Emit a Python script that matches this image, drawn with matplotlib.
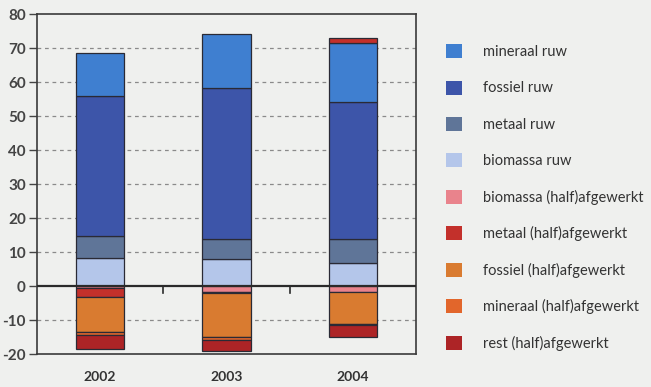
import matplotlib
matplotlib.use("Agg")
import matplotlib.pyplot as plt
import numpy as np
from matplotlib.patches import Patch

plt.rcParams['font.family'] = ['Lato', 'DejaVu Sans']

years = ["2002", "2003", "2004"]

# series (stacked order from zero outward)
biomassa_ruw = [8.3, 7.8, 6.9]
metaal_ruw = [6.4, 6.1, 6.8]
fossiel_ruw = [41.3, 44.2, 40.4]
mineraal_ruw = [12.6, 15.9, 17.5]
biomassa_half = [-0.6, -1.8, -1.8]
metaal_half = [-2.7, -0.2, 1.2]
fossiel_half = [-10.1, -12.9, -9.4]
mineraal_half = [-1.0, -0.9, -0.3]
rest_half = [-4.2, -3.3, -3.5]

series = [
    ("biomassa ruw", biomassa_ruw, "#b4c6ea"),
    ("metaal ruw", metaal_ruw, "#5f7598"),
    ("fossiel ruw", fossiel_ruw, "#3d55a9"),
    ("mineraal ruw", mineraal_ruw, "#3f7fd0"),
    ("biomassa (half)afgewerkt", biomassa_half, "#e9838c"),
    ("metaal (half)afgewerkt", metaal_half, "#c3302b"),
    ("fossiel (half)afgewerkt", fossiel_half, "#d97b30"),
    ("mineraal (half)afgewerkt", mineraal_half, "#e2662b"),
    ("rest (half)afgewerkt", rest_half, "#ad2426"),
]

legend_order = ["mineraal ruw", "fossiel ruw", "metaal ruw", "biomassa ruw",
                "biomassa (half)afgewerkt", "metaal (half)afgewerkt",
                "fossiel (half)afgewerkt", "mineraal (half)afgewerkt",
                "rest (half)afgewerkt"]

bg = "#eff0ee"
fig = plt.figure(figsize=(6.51, 3.87), dpi=100, facecolor=bg)
ax = fig.add_axes([37/651, 1-354/387, 379/651, 340/387], facecolor=bg)

x = np.arange(len(years))
pos = np.zeros(len(years))
neg = np.zeros(len(years))
for name, vals, col in series:
    v = np.array(vals, dtype=float)
    bottom = np.where(v >= 0, pos, neg)
    ax.bar(x, v, 0.385, bottom=bottom, color=col, edgecolor="#2a2a35",
           linewidth=0.9, zorder=3)
    pos = pos + np.where(v >= 0, v, 0)
    neg = neg + np.where(v < 0, v, 0)

ax.set_xlim(-0.5, 2.5)
ax.set_ylim(-20, 80)
ax.set_yticks(range(-20, 81, 10))
ax.set_yticklabels([str(t) for t in range(-20, 81, 10)])
for t in range(-10, 80, 10):
    if t != 0:
        ax.axhline(t, color="#8a8a8a", lw=0.9, ls=(0, (3, 3)), zorder=1)
ax.axhline(0, color="#2a2a2a", lw=1.6, zorder=4)
for xb in [0.5, 1.5]:
    ax.plot([xb, xb], [0, -2.2], color="#2a2a2a", lw=1.2, zorder=4)

ax.set_xticks(x)
ax.set_xticklabels(years)
ax.tick_params(axis='x', length=0, pad=12, labelsize=10, colors="#333333")
ax.tick_params(axis='y', length=6, width=1.0, direction='out', pad=2,
               labelsize=11, colors="#444444")
for lbl in ax.get_yticklabels():
    lbl.set_fontweight("bold")
for lbl in ax.get_xticklabels():
    lbl.set_fontweight("bold")
for s in ax.spines.values():
    s.set_color("#3a3a3a")
    s.set_linewidth(1.2)

cmap = {n: c for n, v, c in series}
handles = [Patch(facecolor=cmap[n], edgecolor="none") for n in legend_order]
fig.legend(handles, legend_order, loc="upper left", bbox_to_anchor=(433/651, 1-31/387),
           frameon=False, fontsize=10.5, handlelength=1.1, handleheight=1.1,
           handletextpad=1.45, labelspacing=1.47, labelcolor="#333333")

fig.savefig("out.png", dpi=100, facecolor=bg)
